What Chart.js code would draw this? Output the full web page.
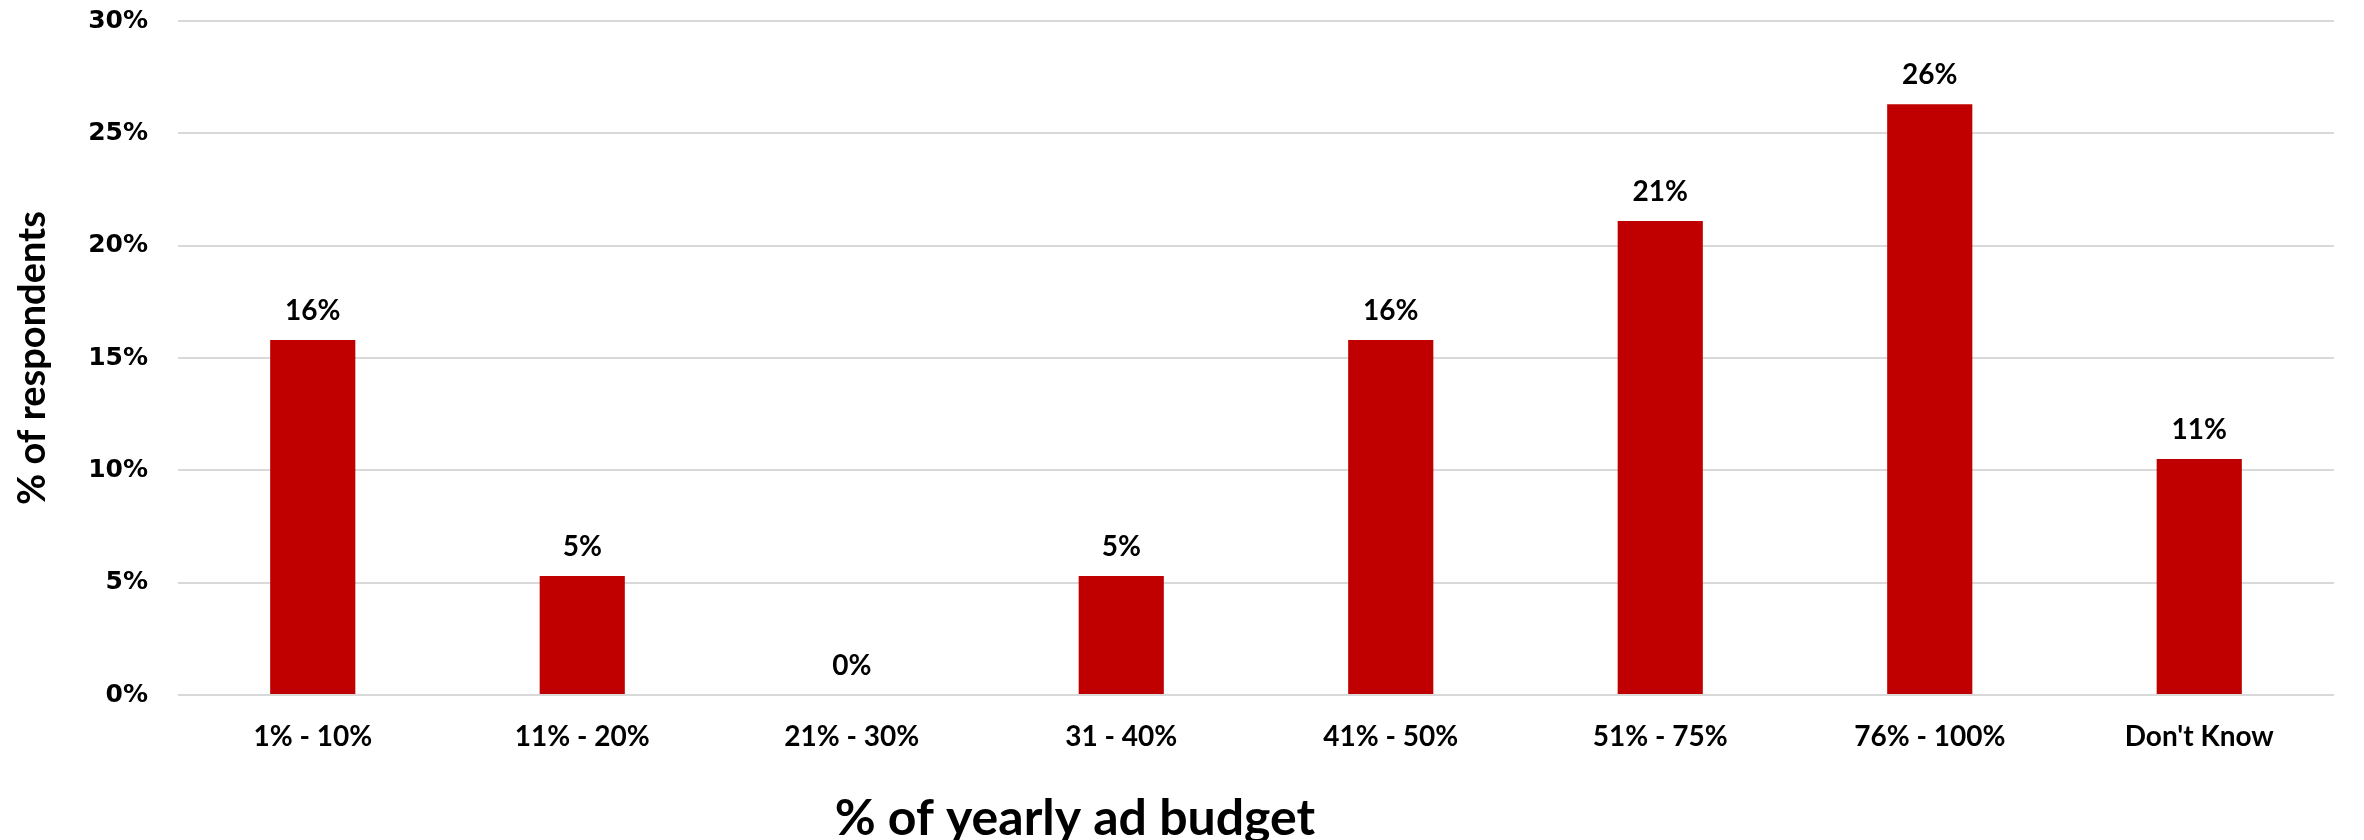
<!DOCTYPE html>
<html>
<head>
<meta charset="utf-8">
<script src="https://cdn.jsdelivr.net/npm/chart.js@4.4.1/dist/chart.umd.min.js"></script>
<style>
  html, body { margin: 0; padding: 0; background: #fff; }
  #wrap { width: 2364px; height: 840px; position: relative; }
</style>
</head>
<body>
<div id="wrap"><canvas id="budgetChart"></canvas></div>
<script>
// survey data: share of respondents per ad budget bracket (n = 19)
const categories = ['1% - 10%', '11% - 20%', '21% - 30%', '31 - 40%', '41% - 50%', '51% - 75%', '76% - 100%', "Don't Know"];
const respondents = [15.8, 5.3, 0, 5.3, 15.8, 21.1, 26.3, 10.5];
const yTicks = [0, 5, 10, 15, 20, 25, 30];
const xTitle = '% of yearly ad budget';

const barRed = '#c00000';
const gridGray = '#d9d9d9';
const labelFont = 'Lato, "Open Sans", sans-serif';

// value labels above each bar
const valueLabels = {
    id: 'valueLabels',
    afterDatasetsDraw(chart) {
        const ctx = chart.ctx;
        const meta = chart.getDatasetMeta(0);
        ctx.save();
        ctx.font = 'bold 28px ' + labelFont;
        ctx.fillStyle = '#000';
        ctx.textAlign = 'center';
        ctx.textBaseline = 'alphabetic';
        meta.data.forEach((bar, i) => {
            const v = chart.data.datasets[0].data[i];
            ctx.fillText(Math.round(v) + '%', bar.x, bar.y - 20);
        });
        ctx.restore();
    }
};

// x axis title sits left of centre in the original, so draw it by hand
const xAxisTitle = {
    id: 'xAxisTitle',
    afterDraw(chart) {
        const ctx = chart.ctx;
        const area = chart.chartArea;
        ctx.save();
        ctx.font = 'bold 50px ' + labelFont;
        ctx.fillStyle = '#000';
        ctx.textAlign = 'center';
        ctx.textBaseline = 'alphabetic';
        ctx.fillText(xTitle, area.left + (area.right - area.left) * 0.416, chart.height - 5);
        ctx.restore();
    }
};

const ctx = document.getElementById('budgetChart').getContext('2d');
new Chart(ctx, {
    type: 'bar',
    data: {
        labels: categories,
        datasets: [{
            data: respondents,
            backgroundColor: barRed,
            borderWidth: 0,
            categoryPercentage: 1,
            barPercentage: 0.316
        }]
    },
    options: {
        responsive: true,
        maintainAspectRatio: false,
        animation: false,
        layout: { padding: { top: 21, right: 30, left: 0, bottom: 0 } },
        plugins: { legend: { display: false }, tooltip: { enabled: false } },
        scales: {
            x: {
                grid: { display: false, drawTicks: false },
                border: { display: false },
                ticks: {
                    color: '#000',
                    padding: 25,
                    maxRotation: 0,
                    font: { family: labelFont, weight: 'bold', size: 28 }
                },
                afterFit(scale) { scale.height = 145; }
            },
            y: {
                min: 0,
                max: 30,
                afterBuildTicks(scale) { scale.ticks = yTicks.map(v => ({ value: v })); },
                grid: { color: gridGray, lineWidth: 2, drawTicks: false },
                border: { display: false },
                ticks: {
                    color: '#000',
                    padding: 30,
                    font: { family: '"DejaVu Sans", sans-serif', weight: 'bold', size: 25 },
                    callback: v => v + '%'
                },
                title: {
                    display: true,
                    text: '% of respondents',
                    color: '#000',
                    padding: { top: 10, bottom: 0 },
                    font: { family: labelFont, weight: 'bold', size: 38 }
                },
                afterFit(scale) {
                    scale.width = 178;
                    // tick padding should not push the plot area down
                    scale.paddingTop = 0;
                    scale.paddingBottom = 0;
                }
            }
        }
    },
    plugins: [valueLabels, xAxisTitle]
});
</script>
</body>
</html>
